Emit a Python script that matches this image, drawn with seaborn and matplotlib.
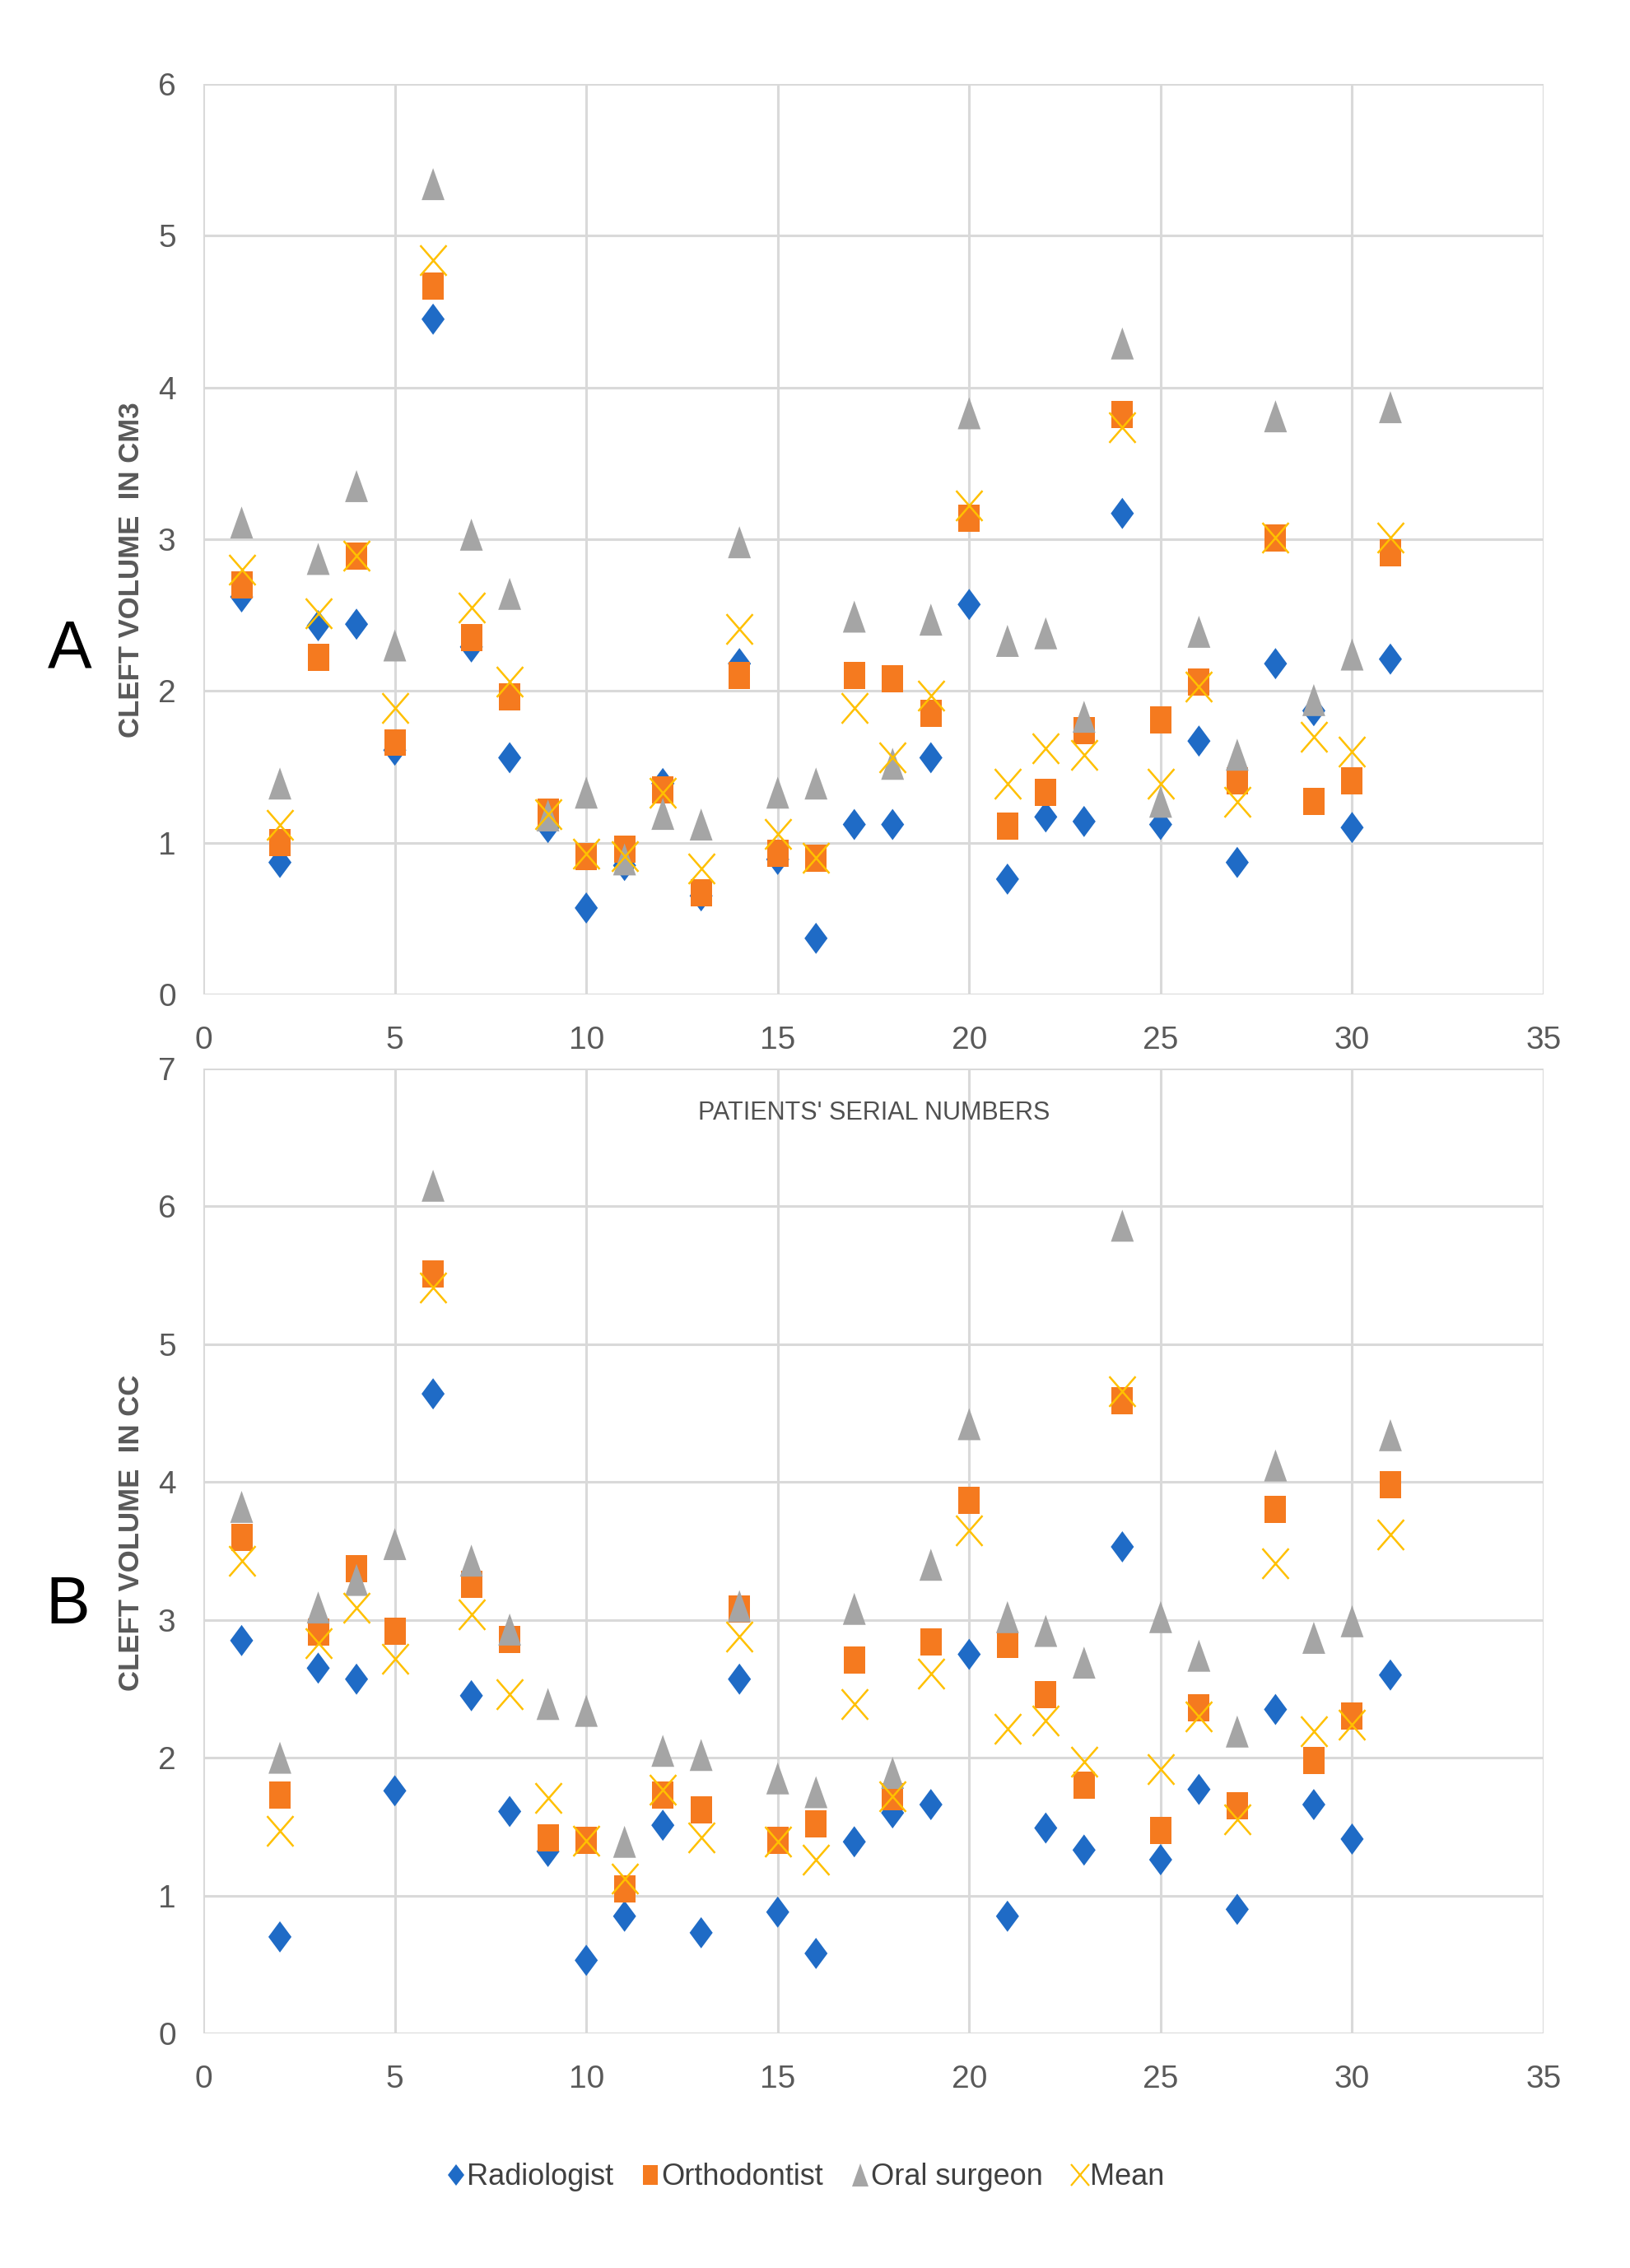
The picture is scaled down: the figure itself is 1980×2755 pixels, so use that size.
import numpy as np
import pandas as pd
import matplotlib
matplotlib.use("Agg")
import matplotlib.pyplot as plt
from matplotlib.markers import MarkerStyle
from matplotlib.transforms import Affine2D
from matplotlib.lines import Line2D
import seaborn as sns

# ---------------- data ----------------
patients = list(range(1, 32))
series_names = ["Radiologist", "Orthodontist", "Oral surgeon", "Mean"]

radiologist_A = [2.62, 0.87, 2.43, 2.44, 1.61, 4.45, 2.29, 1.56, 1.10, 0.57, 0.85, 1.39, 0.65, 2.18, 0.89, 0.37,
                 1.12, 1.12, 1.56, 2.57, 0.76, 1.17, 1.14, 3.17, 1.12, 1.67, 0.87, 2.18, 1.87, 1.10, 2.21]
orthodontist_A = [2.70, 1.00, 2.22, 2.89, 1.66, 4.67, 2.35, 1.96, 1.20, 0.91, 0.96, 1.35, 0.67, 2.10, 0.93, 0.90,
                  2.10, 2.08, 1.85, 3.14, 1.11, 1.33, 1.74, 3.82, 1.81, 2.06, 1.41, 3.01, 1.27, 1.41, 2.91]
surgeon_A = [3.11, 1.39, 2.87, 3.35, 2.30, 5.34, 3.03, 2.64, 1.18, 1.33, 0.89, 1.19, 1.12, 2.98, 1.33, 1.39,
             2.49, 1.52, 2.47, 3.83, 2.33, 2.38, 1.83, 4.29, 1.27, 2.39, 1.58, 3.81, 1.94, 2.24, 3.87]
mean_A = [2.80, 1.12, 2.51, 2.89, 1.89, 4.84, 2.55, 2.06, 1.19, 0.93, 0.91, 1.33, 0.83, 2.41, 1.06, 0.90,
          1.89, 1.56, 1.97, 3.22, 1.39, 1.62, 1.58, 3.74, 1.39, 2.03, 1.27, 3.01, 1.70, 1.60, 3.01]

radiologist_B = [2.85, 0.70, 2.65, 2.57, 1.76, 4.64, 2.45, 1.61, 1.32, 0.53, 0.85, 1.51, 0.73, 2.57, 0.88, 0.58,
                 1.39, 1.60, 1.66, 2.75, 0.85, 1.49, 1.33, 3.53, 1.26, 1.77, 0.90, 2.35, 1.66, 1.41, 2.60]
orthodontist_B = [3.60, 1.73, 2.91, 3.37, 2.92, 5.51, 3.26, 2.86, 1.42, 1.40, 1.05, 1.73, 1.62, 3.08, 1.40, 1.52,
                  2.71, 1.72, 2.84, 3.87, 2.82, 2.46, 1.80, 4.59, 1.47, 2.36, 1.65, 3.80, 1.98, 2.30, 3.98]
surgeon_B = [3.82, 2.00, 3.09, 3.29, 3.55, 6.15, 3.43, 2.93, 2.39, 2.34, 1.39, 2.05, 2.02, 3.10, 1.85, 1.75,
             3.08, 1.89, 3.40, 4.42, 3.02, 2.92, 2.69, 5.86, 3.02, 2.74, 2.19, 4.12, 2.87, 2.99, 4.34]
mean_B = [3.43, 1.47, 2.83, 3.09, 2.72, 5.41, 3.04, 2.46, 1.71, 1.40, 1.12, 1.77, 1.42, 2.88, 1.39, 1.26,
          2.39, 1.72, 2.61, 3.65, 2.21, 2.27, 1.97, 4.66, 1.92, 2.30, 1.55, 3.41, 2.19, 2.24, 3.62]

x_ticks = [0, 5, 10, 15, 20, 25, 30, 35]
y_ticks_A = [0, 1, 2, 3, 4, 5, 6]
y_ticks_B = [0, 1, 2, 3, 4, 5, 6, 7]

ylabel_A = "CLEFT VOLUME  IN CM3"
ylabel_B = "CLEFT VOLUME  IN CC"
xlabel_text = "PATIENTS' SERIAL NUMBERS"


def long_df(rad, ort, sur, mean):
    frames = []
    for name, vals in zip(series_names, [rad, ort, sur, mean]):
        frames.append(pd.DataFrame({"patient": patients, "volume": vals, "series": name}))
    return pd.concat(frames, ignore_index=True)


df_A = long_df(radiologist_A, orthodontist_A, surgeon_A, mean_A)
df_B = long_df(radiologist_B, orthodontist_B, surgeon_B, mean_B)

# ---------------- style ----------------
sns.set_theme(style="white")
FONT = ["Liberation Sans", "DejaVu Sans"]
plt.rcParams["font.family"] = FONT

colors = {"Radiologist": "#1F6BC6", "Orthodontist": "#F57A1F",
          "Oral surgeon": "#A5A5A5", "Mean": "#FFC000"}


def mk(m, sy):
    return MarkerStyle(m, transform=Affine2D().scale(1.0, sy))


marker_specs = {
    "Radiologist": dict(marker=mk("D", 1.35), s=14.3 ** 2),
    "Orthodontist": dict(marker=mk("s", 1.27), s=18.7 ** 2),
    "Oral surgeon": dict(marker=mk("^", 1.4), s=20.0 ** 2),
    "Mean": dict(marker=mk("x", 1.15), s=23.0 ** 2),
}

W, H = 1981, 2755
fig = plt.figure(figsize=(W / 100, H / 100), dpi=100)

left, right = 247 / W, 1875 / W
axA = fig.add_axes([left, 1 - 1208 / H, right - left, (1208 - 102) / H])
axB = fig.add_axes([left, 1 - 2470 / H, right - left, (2470 - 1298) / H])

grid_c = "#D9D9D9"
tick_c = "#595959"

for ax, df, yt in [(axA, df_A, y_ticks_A), (axB, df_B, y_ticks_B)]:
    for z, name in enumerate(series_names):
        sub = df[df["series"] == name]
        spec = marker_specs[name]
        if name == "Mean":
            sns.scatterplot(data=sub, x="patient", y="volume", ax=ax, color=colors[name],
                            marker=spec["marker"], s=spec["s"], linewidth=1.8,
                            legend=False, zorder=3 + z)
        else:
            sns.scatterplot(data=sub, x="patient", y="volume", ax=ax, color=colors[name],
                            marker=spec["marker"], s=spec["s"], linewidth=0, edgecolor="none",
                            legend=False, zorder=3 + z)
    ax.set_xlim(0, 35)
    ax.set_ylim(0, yt[-1])
    ax.set_xticks(x_ticks)
    ax.set_yticks(yt)
    ax.grid(True, color=grid_c, linewidth=2.2)
    ax.set_axisbelow(True)
    for sp in ax.spines.values():
        sp.set_visible(False)
    ax.tick_params(axis="both", length=0, labelsize=28, colors=tick_c)
    ax.tick_params(axis="y", pad=24)
    ax.tick_params(axis="x", pad=27)
    ax.set_xlabel("")
    ax.set_ylabel("")

# y labels (bold, rotated)
axA.set_ylabel(ylabel_A, fontsize=25, fontweight="bold", color=tick_c)
axA.yaxis.label.set_va("center")
axA.yaxis.set_label_coords(-0.0535, 0.466)
axB.set_ylabel(ylabel_B, fontsize=25, fontweight="bold", color=tick_c)
axB.yaxis.label.set_va("center")
axB.yaxis.set_label_coords(-0.0535, 0.519)

# x-axis title of the top chart, which sits over the lower chart as in the original
fig.text(1062 / W, 1 - 1352 / H, xlabel_text, fontsize=22, color="#505050",
         fontweight="medium", ha="center", va="center", zorder=10)

# panel letters
fig.text(85 / W, 1 - 790 / H, "A", fontsize=58, color="black", ha="center", va="center")
fig.text(82 / W, 1 - 1951 / H, "B", fontsize=58, color="black", ha="center", va="center")

# legend
handles = []
for name in series_names:
    spec = marker_specs[name]
    ms = np.sqrt(spec["s"]) * 0.7
    if name == "Mean":
        h = Line2D([], [], linestyle="none", marker=spec["marker"], markersize=ms,
                   markeredgecolor=colors[name], markeredgewidth=1.6, color=colors[name])
    else:
        h = Line2D([], [], linestyle="none", marker=spec["marker"], markersize=ms,
                   markerfacecolor=colors[name], markeredgewidth=0, color=colors[name])
    handles.append(h)
leg = fig.legend(handles, series_names, loc="center", bbox_to_anchor=(980 / W, 1 - 2645 / H),
                 ncol=4, frameon=False, fontsize=26, handlelength=0.5, handletextpad=0.1,
                 columnspacing=1.0, labelcolor="#404040")

fig.savefig("out.png", dpi=100, facecolor="white")
